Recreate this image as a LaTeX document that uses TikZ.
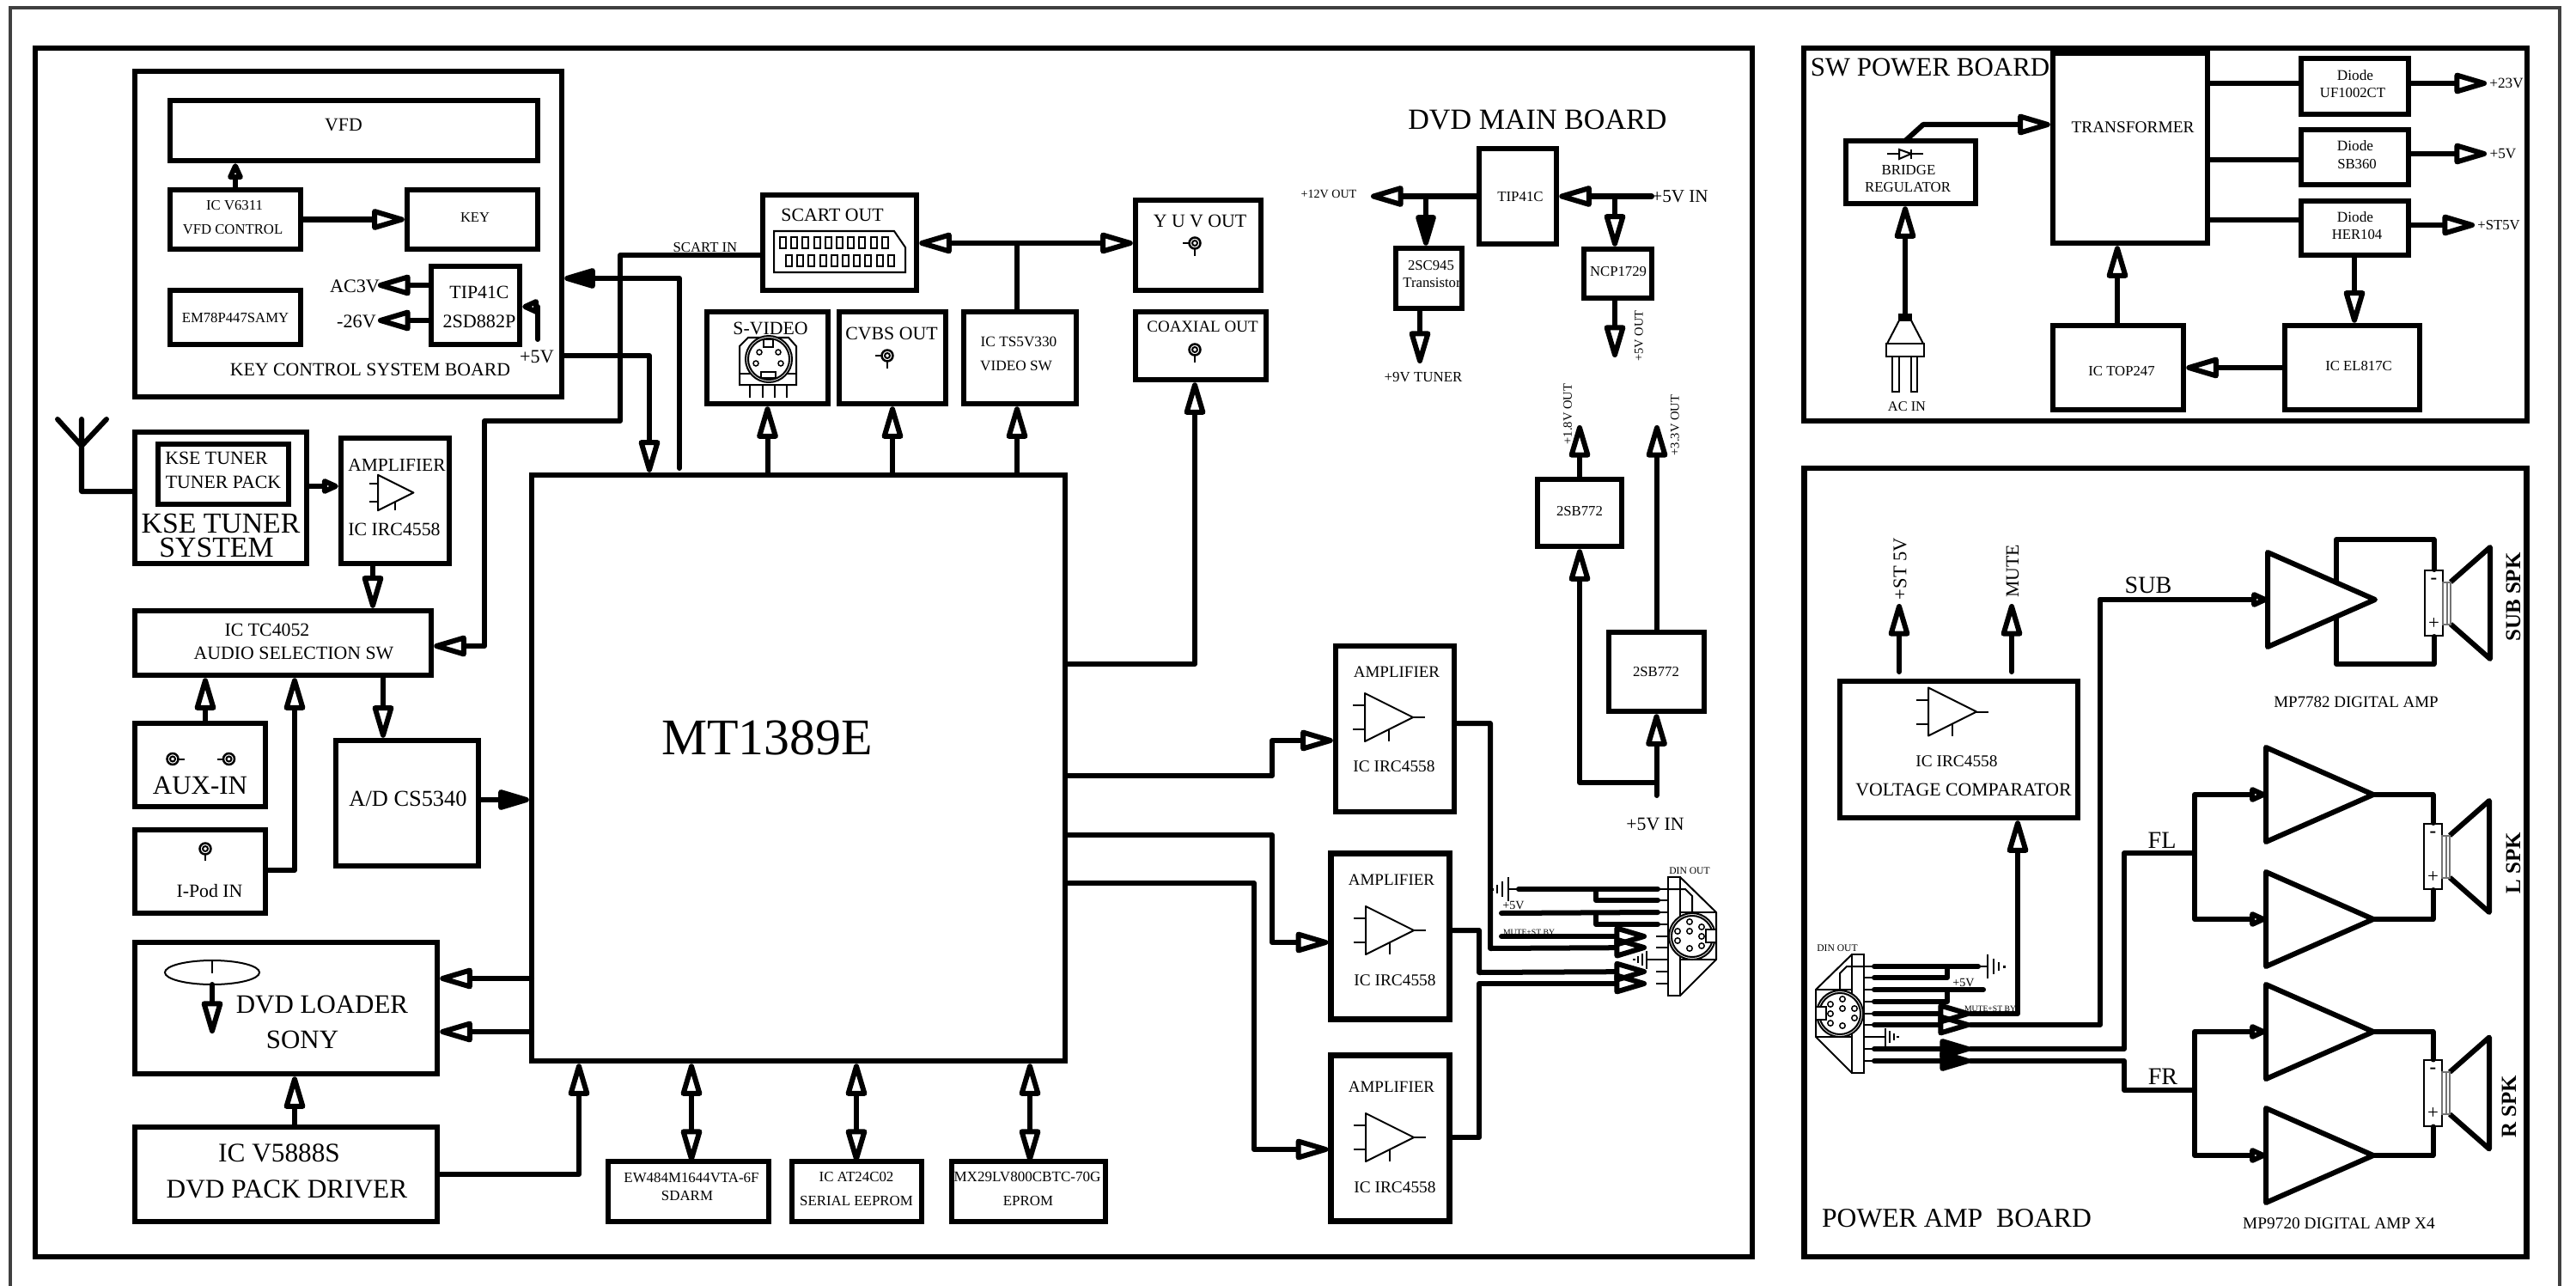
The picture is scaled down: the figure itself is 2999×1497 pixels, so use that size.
\documentclass[tikz,border=0pt]{standalone}
\usepackage{fontspec}
\setmainfont{Liberation Serif}
\usetikzlibrary{arrows.meta}
\tikzset{
  blk/.style 2 args={draw, line width=.065cm, inner sep=0pt, minimum width=#1*.01cm, minimum height=#2*.01cm},
  lab/.style={inner sep=0pt, font=\fontsize{#1}{#1}\selectfont},
  labb/.style={inner sep=0pt, font=\fontsize{#1}{#1}\selectfont\bfseries},
  thn/.style={line width=.02cm},
  wire/.style={line width=.06cm, line cap=round, line join=round},
  arr/.style={wire, -{Triangle[open,round,length=.46cm,width=.25cm]}},
  arrb/.style={wire, {Triangle[open,round,length=.46cm,width=.25cm]}-{Triangle[open,round,length=.46cm,width=.25cm]}},
  arrs/.style={wire, -{Triangle[open,round,length=.24cm,width=.19cm]}},
  arrf/.style={wire, -{Triangle[round,length=.44cm,width=.24cm]}},
  jack/.pic={
    \draw[line width=.025cm] (0,0) circle[radius=.065cm];
    \draw[thn] (0,0) circle[radius=.03cm];
    \foreach \tx/\ty in {#1}{\draw[thn] ({\tx*.45},{\ty*.45}) -- (\tx,\ty);}
  },
  opamp/.pic={
    \draw[thn, line join=round] (0,-28) -- (56,0) -- (0,28) -- cycle;
    \draw[thn] (-14,-14) -- (0,-14) (-14,14) -- (0,14) (27.5,14.5) -- (27.5,28);
  },
  opstub/.pic={\draw[thn] (56,0) -- (70,0);},
  gnd/.pic={
    \draw[thn] (0,-14) -- (0,14) (7,-9) -- (7,9) (13,-5) -- (13,5);
    \draw[line width=.03cm] (19,-1.5) -- (19,1.5);
  },
  din/.pic={
    \draw[thn, line join=round] (-14,-69) -- (-56,-28) -- (-56,27) -- (-14,69);
    \draw[thn] (-14,-69) rectangle (0,69);
    \draw[thn] (-56,-28) -- (-14,-28) (-56,27) -- (-14,27);
    \draw[thn] (0,-55) -- (-20,-55) -- (-28,-47) -- (-28,-28);
    \draw[thn, fill=white] (-28,0) circle[radius=.27cm];
    \draw[thn] (-28,0) circle[radius=.24cm];
    \draw[thn, fill=white] (-56,-8) rectangle (-44,7);
    \foreach \px/\py in {-39/-11,-25/-17,-11/-6,-39/0,-25/-6,-11/5,-39/11,-25/14}{
      \draw[line width=.015cm] (\px,\py) circle[radius=.032cm];}
    \foreach \i/\ry in {1/-55,2/-42,3/-28,4/-14,5/0,6/13,7/27,8/41,9/55}{
      \draw[thn] (0,\ry) -- (14,\ry);
      \coordinate (-r\i) at (12,\ry);
      \coordinate (-t\i) at (25,\ry);}
  },
  svid/.pic={
    \draw[thn] (-34,-15) -- (-24,-25) -- (23,-25) -- (32,-15) -- (32,30) -- (-34,30) -- cycle;
    \draw[thn] (-34,17) -- (32,17);
    \foreach \lx in {-22,-7,7,21}{\draw[thn] (\lx,30) -- (\lx,45);}
    \draw[thn, fill=white] (0,0) circle[radius=.27cm];
    \draw[thn] (0,0) circle[radius=.24cm];
    \draw[thn, fill=white] (-6,-23) rectangle (5,-14);
    \draw[thn, fill=white] (-9,15) rectangle (8,22);
    \foreach \px/\py in {-11/-8,11/-8,-15/5,14/5}{
      \draw[line width=.015cm] (\px,\py) circle[radius=.03cm];}
  },
  spk/.pic={
    \node[draw, thn, inner sep=0pt, minimum width=.21cm, minimum height=.76cm] (-box) at (0,0) {};
    \draw[line width=.06cm, line join=round] (19.5,-24.5) -- (65.5,-65) -- (65.5,65) -- (19.5,24.5);
    \draw[thn, black!55] (10.5,-24.5) rectangle (19.5,24.5) (15,-24.5) -- (15,24.5);
    \node[labb=6.5] (-neg) at (0,-26) {-};
    \node[lab=6.5] (-pos) at (0,24) {+};
  },
}

\begin{document}
\begin{tikzpicture}[x=.01cm, y=-.01cm]
  \useasboundingbox (0,0) rectangle (2999,1497);
  \fill[white] (0,0) rectangle (2999,1497);
  \draw[line width=.035cm, black!75] (12,1497) -- (12,9) -- (2980,9) -- (2980,1497);

  % boards
  \node[blk={1999}{1407}] (mainb) at (1040.5,759.5) {};
  \node[blk={842}{434}] (swb) at (2521,273) {};
  \node[blk={841}{918}] (pab) at (2521,1004) {};
  \node[lab=9.7] (tmain) at (1790,139) {DVD MAIN BOARD};
  \node[lab=8.8] (tsw) at (2247,78) {SW POWER BOARD};
  \node[lab=9] (tpa) at (2278,1418) {POWER AMP\ \ BOARD};

  % key control board
  \node[blk={497}{379}] (kcs) at (405.5,272.5) {};
  \node[blk={428}{70}] (vfd) at (412,152) {};
  \node[blk={152}{69}] (vctl) at (274,255.5) {};
  \node[blk={152}{69}] (keyb) at (550,255.5) {};
  \node[blk={152}{63}] (em78) at (274,369.5) {};
  \node[blk={103}{91}] (tipk) at (553.5,355.5) {};
  \node[lab=6.2] (tvfd) at (400,146) {VFD};
  \node[lab=4.75] (tv1) at (273,239) {IC V6311};
  \node[lab=4.75] (tv2) at (271,267) {VFD CONTROL};
  \node[lab=4.7] (tkey) at (553,253) {KEY};
  \node[lab=4.75] (tem) at (274,370) {EM78P447SAMY};
  \node[lab=6.2] (ttk1) at (558,340) {TIP41C};
  \node[lab=6.3] (ttk2) at (558,374) {2SD882P};
  \node[lab=6.3] (tac) at (413,333) {AC3V};
  \node[lab=6.3] (t26) at (415,374) {-26V};
  \node[lab=6.3] (tk5) at (625,415) {+5V};
  \node[lab=6.2] (tkcs) at (431,430) {KEY CONTROL SYSTEM BOARD};
  \coordinate (tac1) at (440,332);
  \coordinate (t261) at (440,373);
  \coordinate (k5a) at (626,395);
  \coordinate (k5b) at (626,357);
  \draw[arrs] (vctl.north) -- (vfd.south -| vctl);
  \draw[arr] (vctl.east) -- (keyb.west);
  \draw[arr] (tipk.west |- tac1) -- (tac1);
  \draw[arr] (tipk.west |- t261) -- (t261);
  \draw[arrs] (k5a) -- (k5b) -- (tipk.east |- k5b);

  % chip
  \node[blk={621}{682}] (mt) at (929.5,894) {};
  \node[lab=17] (tmt) at (893,859) {MT1389E};
  \coordinate (p5a) at (756,414);
  \coordinate (kr1) at (791,545);
  \coordinate (kr2) at (791,324);
  \draw[arr] (kcs.east |- p5a) -- (p5a) -- (mt.north -| p5a);
  \draw[arrf] (kr1) -- (kr2) -- (kcs.east |- kr2);

  % video outputs
  \node[blk={179}{111}] (scart) at (977.5,282.5) {};
  \node[blk={146}{105}] (yuv) at (1395,285.5) {};
  \node[blk={141}{107}] (svb) at (893.5,416.5) {};
  \node[blk={124}{107}] (cvbs) at (1039,416.5) {};
  \node[blk={131}{107}] (tsv) at (1187.5,416.5) {};
  \node[blk={152}{79}] (coax) at (1398,402.5) {};
  \node[lab=6.2] (tsc) at (969,250) {SCART OUT};
  \node[lab=4.75] (tsi) at (821,288) {SCART IN};
  \node[lab=6.2] (tyu) at (1397,257) {Y U V OUT};
  \node[lab=6.2] (tsv1) at (897,382) {S-VIDEO};
  \node[lab=6.2] (tcv) at (1038,388) {CVBS OUT};
  \node[lab=4.9] (tts1) at (1186,398) {IC TS5V330};
  \node[lab=4.9] (tts2) at (1183,426) {VIDEO SW};
  \node[lab=5.4] (tco) at (1400,380) {COAXIAL OUT};
  \draw[thn] (901,269) -- (1041,269) -- (1054,288) -- (1054,317) -- (901,317) -- cycle;
  \foreach \i in {0,...,9}{
    \draw[thn] ({908+13.2*\i},276) rectangle ++(7,13);
    \draw[thn] ({915+13.2*\i},297) rectangle ++(7,13);}
  \pic at (1391,283) {jack={-14/0,0/15}};
  \pic at (1033,414) {jack={-14/0,0/15}};
  \pic at (1391,407) {jack={0/15}};
  \pic at (895,418) {svid};
  \coordinate (vj) at (1184,283);
  \coordinate (sci1) at (722,297);
  \coordinate (sci2) at (722,490);
  \coordinate (sci3) at (564,490);
  \coordinate (sci4) at (564,752);
  \coordinate (cxb) at (1391,773);
  \draw[arrb] (scart.east |- vj) -- (yuv.west |- vj);
  \draw[wire] (vj) -- (tsv.north -| vj);
  \draw[arr] (mt.north -| svb) -- (svb.south);
  \draw[arr] (mt.north -| cvbs) -- (cvbs.south);
  \draw[arr] (mt.north -| vj) -- (tsv.south -| vj);
  \draw[arr] (mt.east |- cxb) -- (cxb) -- (coax.south -| cxb);

  % tuner and audio inputs
  \node[blk={200}{153}] (kse) at (257,579.5) {};
  \node[blk={152}{70}] (ksei) at (260,552) {};
  \node[blk={126}{146}] (ampt) at (460,583) {};
  \node[blk={345}{75}] (tc) at (329.5,748.5) {};
  \node[blk={152}{97}] (aux) at (233,890.5) {};
  \node[blk={152}{97}] (ipod) at (233,1014.5) {};
  \node[blk={166}{146}] (adc) at (474,935) {};
  \node[lab=6.2] (tk1) at (252,533) {KSE TUNER};
  \node[lab=6.2] (tk2) at (260,561) {TUNER PACK};
  \node[lab=9.6] (tk3) at (257,609) {KSE TUNER};
  \node[lab=9.6] (tk4) at (252,637) {SYSTEM};
  \node[lab=6.1] (tam) at (462,541) {AMPLIFIER};
  \node[lab=6.2] (tir) at (459,616) {IC IRC4558};
  \node[lab=6.2] (ttc1) at (311,733) {IC TC4052};
  \node[lab=6.2] (ttc2) at (342,760) {AUDIO SELECTION SW};
  \node[lab=8.8] (taux) at (233,914) {AUX-IN};
  \node[lab=6.2] (tip) at (244,1037) {I-Pod IN};
  \node[lab=7.5] (tad) at (475,930) {A/D CS5340};
  \pic[scale=.74] at (440,573.5) {opamp};
  \pic at (201,883.5) {jack={14/0}};
  \pic at (266.5,883.5) {jack={-14/0}};
  \pic at (239,988) {jack={0/14}};
  \coordinate (antc) at (95,572);
  \coordinate (antj) at (95,519);
  \coordinate (antl) at (67,488);
  \coordinate (antr) at (124,488);
  \coordinate (antt) at (95,488);
  \coordinate (ktoa) at (357,566);
  \coordinate (atot) at (434,656);
  \coordinate (auxu) at (239,842);
  \coordinate (ipe) at (343,1013);
  \coordinate (tcad) at (446,786);
  \coordinate (adm) at (557,931);
  \draw[wire] (kse.west |- antc) -- (antc) -- (antt) (antl) -- (antj) -- (antr);
  \draw[arrs] (ktoa) -- (ampt.west |- ktoa);
  \draw[arr] (atot) -- (tc.north -| atot);
  \draw[arr] (auxu) -- (tc.south -| auxu);
  \draw[arr] (ipod.east |- ipe) -- (ipe) -- (tc.south -| ipe);
  \draw[arr] (tcad) -- (adc.north -| tcad);
  \draw[arrf] (adm) -- (mt.west |- adm);
  \draw[arr] (scart.west |- sci1) -- (sci1) -- (sci2) -- (sci3) -- (sci4) -- (tc.east |- sci4);

  % loader
  \node[blk={352}{153}] (ldr) at (333,1173.5) {};
  \node[blk={352}{110}] (drv) at (333,1367) {};
  \node[blk={187}{70}] (sdr) at (801.5,1387) {};
  \node[blk={151}{70}] (eep) at (997.5,1387) {};
  \node[blk={179}{70}] (fls) at (1197.5,1387) {};
  \node[lab=8.8] (tl1) at (375,1169) {DVD LOADER};
  \node[lab=8.8] (tl2) at (352,1210) {SONY};
  \node[lab=8.9] (td1) at (325,1342) {IC V5888S};
  \node[lab=8.9] (td2) at (334,1384) {DVD PACK DRIVER};
  \node[lab=4.8] (ts1) at (805,1371) {EW484M1644VTA-6F};
  \node[lab=4.8] (ts2) at (800,1392) {SDARM};
  \node[lab=4.8] (te1) at (997,1370) {IC AT24C02};
  \node[lab=4.8] (te2) at (997,1398) {SERIAL EEPROM};
  \node[lab=4.85] (tf1) at (1196,1370) {MX29LV800CBTC-70G};
  \node[lab=4.8] (tf2) at (1197,1398) {EPROM};
  \draw[thn] (247,1132) ellipse[x radius=.55cm, y radius=.14cm];
  \draw[thn] (247,1118) -- (247,1133);
  \coordinate (dsk) at (247,1146);
  \coordinate (pkp) at (247,1203);
  \coordinate (ml1) at (619,1139);
  \coordinate (ml2) at (619,1201);
  \coordinate (dvm) at (674,1367);
  \coordinate (busa) at (805,1352);
  \coordinate (busb) at (997,1352);
  \coordinate (busc) at (1199,1352);
  \draw[arr] (dsk) -- (pkp);
  \draw[arr] (ml1) -- (ldr.east |- ml1);
  \draw[arr] (ml2) -- (ldr.east |- ml2);
  \draw[arr] (drv.north -| ipe) -- (ldr.south -| ipe);
  \draw[arr] (drv.east |- dvm) -- (dvm) -- (mt.south -| dvm);
  \draw[arrb] (mt.south -| busa) -- (busa);
  \draw[arrb] (mt.south -| busb) -- (busb);
  \draw[arrb] (mt.south -| busc) -- (busc);

  % regulators
  \node[lab=4.75] (tt1) at (1666,309) {2SC945};
  \node[lab=4.75] (tt2) at (1667,329) {Transistor};
  \node[blk={90}{111}] (tipm) at (1767,228.5) {};
  \node[blk={77}{70}] (tr945) at (1663.5,324) {};
  \node[blk={79}{57}] (ncp) at (1883.5,318.5) {};
  \node[blk={98}{78}] (sbu) at (1839,597) {};
  \node[blk={111}{92}] (sbl) at (1928.5,782) {};
  \node[lab=4.8] (ttm) at (1770,229) {TIP41C};
  \node[lab=4.75] (tnc) at (1884,316) {NCP1729};
  \node[lab=4.75] (tsb1) at (1839,595) {2SB772};
  \node[lab=4.75] (tsb2) at (1928,782) {2SB772};
  \node[lab=4] (t12) at (1547,226) {+12V OUT};
  \node[lab=6] (t5in) at (1956,229) {+5V IN};
  \node[lab=4.8] (t9v) at (1657,439) {+9V TUNER};
  \node[lab=4.1, rotate=90] (t5o) at (1908,391) {+5V OUT};
  \node[lab=4.15, rotate=90] (t18) at (1825,482) {+1.8V OUT};
  \node[lab=4.15, rotate=90] (t33) at (1950,495) {+3.3V OUT};
  \node[lab=6.2] (t5b) at (1927,960) {+5V IN};
  \coordinate (o12) at (1596,228.5);
  \coordinate (i5) at (1923,228.5);
  \coordinate (j12) at (1660,228.5);
  \coordinate (j5) at (1880,228.5);
  \coordinate (o9) at (1653,423);
  \coordinate (o5) at (1880,416);
  \coordinate (o18) at (1839,495);
  \coordinate (o33) at (1929,495);
  \coordinate (i5b) at (1928.5,926);
  \coordinate (j5b) at (1928.5,911);
  \draw[arr] (tipm.west) -- (o12);
  \draw[arr] (i5) -- (tipm.east);
  \draw[arrf] (j12) -- (tr945.north -| j12);
  \draw[arr] (j5) -- (ncp.north -| j5);
  \draw[arr] (tr945.south -| o9) -- (o9);
  \draw[arr] (ncp.south -| o5) -- (o5);
  \draw[arr] (sbu.north) -- (o18);
  \draw[arr] (sbl.north -| o33) -- (o33);
  \draw[arr] (i5b) -- (sbl.south);
  \draw[arr] (j5b) -| (sbu.south);

  % audio amplifiers
  \foreach \n/\cx/\cy/\ax/\ay/\ix/\iy/\ox/\oy in {1/1624/848.5/1626/782/1623/892/1589/835,
      2/1618.5/1090/1620/1024/1624/1141/1590/1083,3/1618.5/1325/1620/1265/1624/1382/1590/1324}{
    \node[blk={138}{193}] (amp\n) at (\cx,\cy) {};
    \node[lab=5.4] (tamp\n) at (\ax,\ay) {AMPLIFIER};
    \node[lab=5.5] (tic\n) at (\ix,\iy) {IC IRC4558};
    \pic at (\ox,\oy) {opamp};
    \pic at (\ox,\oy) {opstub};}
  \coordinate (a1b) at (1481,903);
  \coordinate (a1t) at (1481,862);
  \coordinate (a2b) at (1481,972);
  \coordinate (a2t) at (1481,1097);
  \coordinate (a3b) at (1460,1028);
  \coordinate (a3t) at (1460,1338);
  \draw[arr] (mt.east |- a1b) -- (a1b) -- (a1t) -- (amp1.west |- a1t);
  \draw[arr] (mt.east |- a2b) -- (a2b) -- (a2t) -- (amp2.west |- a2t);
  \draw[arr] (mt.east |- a3b) -- (a3b) -- (a3t) -- (amp3.west |- a3t);

  % din socket on main board
  \node[lab=3.3] (tdm) at (1967,1014) {DIN OUT};
  \node[lab=4] (tm5) at (1762,1054) {+5V};
  \node[lab=2.75] (tmm) at (1780,1085) {MUTE+ST BY};
  \pic[xscale=-1] (dinm) at (1942,1090) {din};
  \coordinate (wg) at (1756,1035);
  \coordinate (wg1) at (1768,1035);
  \coordinate (jm1) at (1858,1035);
  \coordinate (wp) at (1748,1063);
  \coordinate (jm2) at (1858,1063);
  \coordinate (wm) at (1748,1090);
  \coordinate (a1o) at (1735,842);
  \coordinate (a1p) at (1735,1104);
  \coordinate (a2o) at (1722,1083);
  \coordinate (a2p) at (1722,1132);
  \coordinate (a3o) at (1722,1324);
  \coordinate (a3p) at (1722,1145);
  \pic[xscale=-1] at (wg) {gnd};
  \draw[thn] (wg) -- (wg1);
  \draw[wire] (wg1) -- (dinm-r1);
  \draw[wire] (dinm-r2) -| (jm1);
  \draw[wire] (wp) -- (dinm-r3);
  \draw[wire] (dinm-r4) -| (jm2);
  \draw[arr] (wm) -- (dinm-t5);
  \draw[arr] (amp1.east |- a1o) -- (a1o) -- (a1p) -- (dinm-t6);
  \draw[arr] (amp2.east |- a2o) -- (a2o) -- (a2p) -- (dinm-t8);
  \draw[arr] (amp3.east |- a3o) -- (a3o) -- (a3p) -- (dinm-t9);
  \draw[thn] (dinm-t7) -- (dinm-r7);
  \pic[xscale=-1, scale=.75] at (dinm-t7) {gnd};

  % switching power board
  \node[blk={180}{221}] (xfmr) at (2480,172.5) {};
  \node[blk={125}{65}] (dio1) at (2741.5,100.5) {};
  \node[blk={125}{64}] (dio2) at (2741.5,183) {};
  \node[blk={125}{63}] (dio3) at (2741.5,265.5) {};
  \node[blk={151}{73}] (brg) at (2224.5,200.5) {};
  \node[blk={152}{98}] (top) at (2466,428) {};
  \node[blk={157}{98}] (el) at (2738.5,428) {};
  \node[lab=5.5] (txf) at (2483,148) {TRANSFORMER};
  \node[lab=4.9] (td1a) at (2742,88) {Diode};
  \node[lab=4.75] (td1b) at (2739,108) {UF1002CT};
  \node[lab=4.9] (td2a) at (2742,170) {Diode};
  \node[lab=4.75] (td2b) at (2744,191) {SB360};
  \node[lab=4.9] (td3a) at (2742,253) {Diode};
  \node[lab=4.75] (td3b) at (2744,273) {HER104};
  \node[lab=4.9] (tv23) at (2918,97) {+23V};
  \node[lab=4.9] (tv5) at (2914,179) {+5V};
  \node[lab=4.75] (tvst) at (2909,262) {+ST5V};
  \node[lab=4.8] (tb1) at (2222,198) {BRIDGE};
  \node[lab=4.8] (tb2) at (2221,218) {REGULATOR};
  \node[lab=4.65] (tacin) at (2220,473) {AC IN};
  \node[lab=4.75] (ttop) at (2470,432) {IC TOP247};
  \node[lab=4.75] (tel) at (2746,426) {IC EL817C};
  \draw[thn] (2197,179) -- (2239,179);
  \draw[thn, fill=white] (2211,174) -- (2225,179) -- (2211,185) -- cycle;
  \draw[thn] (2225,174) -- (2225,185);
  \draw[thn, fill=black] (2211,366) rectangle (2225,373);
  \draw[thn] (2211,373) -- (2197,400) (2225,373) -- (2239,400);
  \draw[thn] (2195.5,400) rectangle (2240,415);
  \draw[thn] (2203,415) rectangle (2211,456);
  \draw[thn] (2225,415) rectangle (2232,456);
  \coordinate (plug) at (2218,365);
  \coordinate (brgo) at (2218,164);
  \coordinate (brgk) at (2239,145);
  \coordinate (xd1) at (2570,97);
  \coordinate (xd2) at (2570,186);
  \coordinate (xd3) at (2570,256);
  \coordinate (o23) at (2895,97);
  \coordinate (o5v) at (2895,179);
  \coordinate (ost) at (2881,262);
  \coordinate (topx) at (2465,379);
  \coordinate (dele) at (2741,297);
  \draw[arr] (plug) -- (brg.south -| plug);
  \draw[arr] (brgo) -- (brgk) -- (xfmr.west |- brgk);
  \draw[wire] (xd1) -- (dio1.west |- xd1);
  \draw[wire] (xd2) -- (dio2.west |- xd2);
  \draw[wire] (xd3) -- (dio3.west |- xd3);
  \draw[arr] (dio1.east |- o23) -- (o23);
  \draw[arr] (dio2.east |- o5v) -- (o5v);
  \draw[arr] (dio3.east |- ost) -- (ost);
  \draw[arr] (topx) -- (xfmr.south -| topx);
  \draw[arr] (dele) -- (el.north -| dele);
  \draw[arr] (el.west) -- (top.east);

  % power amp board
  \node[blk={277}{159}] (cmp) at (2280.5,872.5) {};
  \node[lab=5.5] (tci) at (2278,886) {IC IRC4558};
  \node[lab=6.2] (tcv2) at (2286,919) {VOLTAGE COMPARATOR};
  \node[lab=6.4, rotate=90] (tst) at (2212,662) {+ST 5V};
  \node[lab=6.2, rotate=90] (tmu) at (2343,665) {MUTE};
  \node[lab=8] (tsub) at (2501,681) {SUB};
  \node[lab=8] (tfl) at (2517,978) {FL};
  \node[lab=8] (tfr) at (2518,1253) {FR};
  \node[lab=5.4] (tmp1) at (2743,817) {MP7782 DIGITAL AMP};
  \node[lab=5.5] (tmp2) at (2723,1424) {MP9720 DIGITAL AMP X4};
  \node[labb=7.1, rotate=90] (tsp1) at (2926,695) {SUB SPK};
  \node[labb=7.1, rotate=90] (tsp2) at (2926,1005) {L SPK};
  \node[labb=7.1, rotate=90] (tsp3) at (2921,1288) {R SPK};
  \node[lab=3.3] (tdp) at (2139,1104) {DIN OUT};
  \node[lab=4] (tp5) at (2286,1144) {+5V};
  \node[lab=2.75] (tpm) at (2317,1174) {MUTE+ST BY};
  \pic at (2245,828.5) {opamp};
  \pic at (2245,828.5) {opstub};
  \coordinate (ost1) at (2211,782);
  \coordinate (ost2) at (2211,703);
  \coordinate (omu1) at (2342,782);
  \coordinate (omu2) at (2342,703);
  \draw[arr] (ost1) -- (ost2);
  \draw[arr] (omu1) -- (omu2);

  \pic (spsub) at (2833.5,702) {spk};
  \pic (spl) at (2832.5,997) {spk};
  \pic (spr) at (2832.5,1272.5) {spk};
  \coordinate (subt) at (2720,628);
  \coordinate (subb) at (2720,773);
  \draw[wire] (spsub-box.north) |- (subt) -- (subb) -| (spsub-box.south);
  \foreach \nm/\tx/\ty in {sub/2640/698,fla/2638/925,flb/2638/1070,fra/2638/1201,frb/2638/1345}{
    \coordinate (tri\nm) at (\tx,\ty);
    \coordinate (apx\nm) at ({\tx+125},\ty);
    \draw[line width=.06cm, line join=round, fill=white] (tri\nm) ++(0,-55) -- (apx\nm) -- ++(-125,55) -- cycle;}
  \draw[wire] (apxfla) -| (spl-box.north);
  \draw[wire] (apxflb) -| (spl-box.south);
  \draw[wire] (apxfra) -| (spr-box.north);
  \draw[wire] (apxfrb) -| (spr-box.south);

  % din socket on power amp board
  \pic (dinp) at (2170,1180) {din};
  \coordinate (wg2) at (2303,1125);
  \coordinate (wg3) at (2314,1125);
  \coordinate (jp1) at (2267,1125);
  \coordinate (wp5) at (2309,1152);
  \coordinate (jp2) at (2267,1152);
  \coordinate (tp5x) at (2294,1180);
  \coordinate (tp6x) at (2294,1193);
  \coordinate (tp8x) at (2294,1221);
  \coordinate (tp9x) at (2294,1235);
  \coordinate (cmpin) at (2349,1180);
  \coordinate (sub1) at (2445,1193);
  \coordinate (sub2) at (2445,698);
  \coordinate (fl1) at (2473,1221);
  \coordinate (fl2) at (2473,993);
  \coordinate (flj) at (2555,993);
  \coordinate (fr1) at (2473,1235);
  \coordinate (fr2) at (2473,1269);
  \coordinate (frj) at (2555,1269);
  \pic at (wg3) {gnd};
  \draw[thn] (wg2) -- (wg3);
  \draw[wire] (dinp-r1) -- (wg2);
  \draw[wire] (dinp-r2) -| (jp1);
  \draw[wire] (dinp-r3) -- (wp5);
  \draw[wire] (dinp-r4) -| (jp2);
  \draw[thn] (dinp-r7) -- (dinp-t7);
  \pic[scale=.75] at (dinp-t7) {gnd};
  \draw[arr] (dinp-r5) -- (tp5x);
  \draw[arr] (dinp-r6) -- (tp6x);
  \draw[arrf] (dinp-r8) -- (tp8x);
  \draw[arrf] (dinp-r9) -- (tp9x);
  \draw[arr] (tp5x) -- (cmpin) -- (cmp.south -| cmpin);
  \draw[wire] (tp6x) -- (sub1) -- (sub2);
  \draw[arrs] (sub2) -- (trisub);
  \draw[wire] (tp8x) -- (fl1) -- (fl2) -- (flj);
  \draw[wire] (tp9x) -- (fr1) -- (fr2) -- (frj);
  \draw[arrs] (flj) |- (trifla);
  \draw[arrs] (flj) |- (triflb);
  \draw[arrs] (frj) |- (trifra);
  \draw[arrs] (frj) |- (trifrb);
\end{tikzpicture}
\end{document}
